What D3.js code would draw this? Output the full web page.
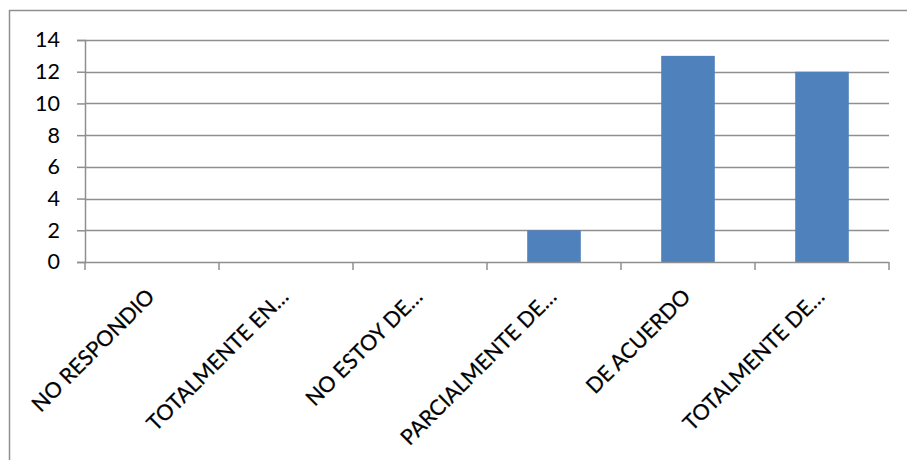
<!DOCTYPE html>
<html>
<head>
<meta charset="utf-8">
<script src="https://cdn.jsdelivr.net/npm/d3@7/dist/d3.min.js"></script>
<style>
  html, body { margin: 0; padding: 0; background: #fff; }
  svg { display: block; }
  text { font-family: Lato, "Open Sans", sans-serif; fill: #000; }
</style>
</head>
<body>
<svg id="chart" width="907" height="460"></svg>
<script>
// Survey responses per answer option
const categories = [
  "NO RESPONDIO",
  "TOTALMENTE EN…",
  "NO ESTOY DE…",
  "PARCIALMENTE DE…",
  "DE ACUERDO",
  "TOTALMENTE DE…"
];
const values = [0, 0, 0, 2, 13, 12];
const yTicks = [0, 2, 4, 6, 8, 10, 12, 14];

const svg = d3.select("#chart");
const plot = { left: 85, right: 889, top: 40, bottom: 262 };
const gridColor = "#8f8f8f";

// Outer frame of the chart area
svg.append("rect")
  .attr("x", 9.5).attr("y", 10.5)
  .attr("width", 1000).attr("height", 1000)
  .attr("fill", "none").attr("stroke", gridColor).attr("stroke-width", 1.5);

const x = d3.scaleBand()
  .domain(categories)
  .range([plot.left, plot.right])
  .paddingInner(0.6)
  .paddingOuter(0.3);

const xCat = d3.scaleBand()
  .domain(categories)
  .range([plot.left, plot.right]);

const y = d3.scaleLinear()
  .domain([0, 14])
  .range([plot.bottom, plot.top]);

// Value axis with short ticks on the left
const yAxis = svg.append("g")
  .attr("transform", `translate(${plot.left},0)`)
  .call(d3.axisLeft(y).tickValues(yTicks).tickSize(8).tickPadding(17).tickFormat(d3.format("d")));
yAxis.select(".domain").attr("stroke", gridColor).attr("stroke-width", 1.5);
yAxis.selectAll(".tick line").attr("stroke", gridColor).attr("stroke-width", 1.5);
yAxis.selectAll(".tick text").attr("font-size", 21.5).attr("fill", "#000")
  .attr("font-family", "Lato, sans-serif");

// Horizontal gridlines
svg.append("g").selectAll("line")
  .data(yTicks.filter(d => d > 0))
  .join("line")
  .attr("x1", plot.left).attr("x2", plot.right)
  .attr("y1", d => Math.round(y(d)) + 0.5).attr("y2", d => Math.round(y(d)) + 0.5)
  .attr("stroke", gridColor).attr("stroke-width", 1.5);

// Bars
svg.append("g").selectAll("rect")
  .data(categories.map((c, i) => ({ c, v: values[i] })))
  .join("rect")
  .attr("x", d => x(d.c))
  .attr("width", x.bandwidth())
  .attr("y", d => y(d.v))
  .attr("height", d => y(0) - y(d.v))
  .attr("fill", "#4f81bd");

// Category axis: baseline and boundary ticks
const bounds = categories.map(c => xCat(c)).concat([plot.right]);
svg.append("line")
  .attr("x1", plot.left).attr("x2", plot.right)
  .attr("y1", plot.bottom + 0.5).attr("y2", plot.bottom + 0.5)
  .attr("stroke", gridColor).attr("stroke-width", 1.5);
svg.append("g").selectAll("line")
  .data(bounds)
  .join("line")
  .attr("x1", d => d).attr("x2", d => d)
  .attr("y1", plot.bottom).attr("y2", plot.bottom + 8)
  .attr("stroke", gridColor).attr("stroke-width", 1.5);

// Rotated category labels
svg.append("g").selectAll("text")
  .data(categories)
  .join("text")
  .attr("transform", c => `translate(${xCat(c) + xCat.bandwidth() / 2 + 4},${plot.bottom + 36}) rotate(-45)`)
  .attr("text-anchor", "end")
  .attr("font-size", 21.5)
  .style("stroke", "#000").style("stroke-width", 0.25)
  .text(c => c);
</script>
</body>
</html>
